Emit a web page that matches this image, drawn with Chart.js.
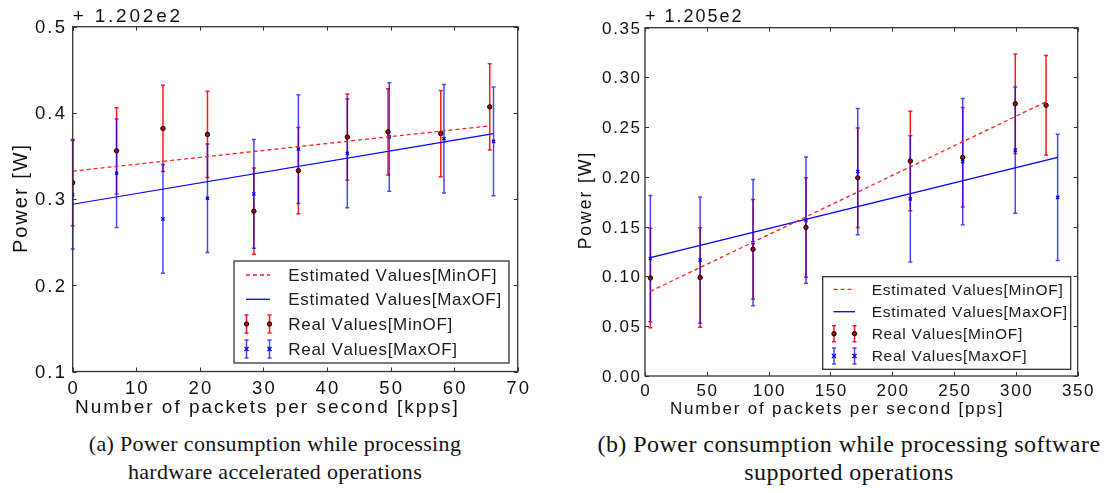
<!DOCTYPE html>
<html><head><meta charset="utf-8">
<script src="https://cdn.jsdelivr.net/npm/chart.js@4.4.1/dist/chart.umd.min.js"></script>
<style>
body{margin:0;background:#fff;width:1108px;height:493px;overflow:hidden;position:relative}
canvas{position:absolute;top:0}
.cap{position:absolute;font-family:'Liberation Serif',serif;color:#111;text-align:center;white-space:nowrap;line-height:28px}
</style></head><body>
<canvas id="ca" style="left:0" width="555" height="420"></canvas>
<canvas id="cb" style="left:555px" width="553" height="420"></canvas>
<div class="cap" style="left:0;width:550px;top:430px;font-size:22px;letter-spacing:0.35px">(a) Power consumption while processing<br>hardware accelerated operations</div>
<div class="cap" style="left:574px;width:550px;top:430px;font-size:24px;letter-spacing:0.45px">(b) Power consumption while processing software<br>supported operations</div>
<script>
// ---------- (a) hardware accelerated ----------
const xRealMinA = [0, 6.9, 14.2, 21.2, 28.5, 35.5, 43.2, 49.6, 57.9, 65.6];
const yRealMinA = [0.319, 0.356, 0.382, 0.375, 0.286, 0.333, 0.372, 0.378, 0.376, 0.407];
const eRealMinA = [0.05, 0.05, 0.05, 0.05, 0.05, 0.05, 0.05, 0.05, 0.05, 0.05];
const xRealMaxA = [0, 6.9, 14.2, 21.2, 28.5, 35.5, 43.2, 49.8, 58.4, 66.2];
const yRealMaxA = [0.305, 0.330, 0.277, 0.301, 0.306, 0.358, 0.353, 0.372, 0.370, 0.367];
const eRealMaxA = [0.063, 0.063, 0.063, 0.063, 0.063, 0.063, 0.063, 0.063, 0.063, 0.063];
const xEstMinA = [0, 65.6];
const yEstMinA = [0.3324, 0.385];
const xEstMaxA = [0, 66.2];
const yEstMaxA = [0.294, 0.376];
const xTicksA = [0, 10, 20, 30, 40, 50, 60, 70];
const yTicksA = [0.1, 0.2, 0.3, 0.4, 0.5];

// ---------- (b) software supported ----------
const xRealMinB = [4.35, 44.6, 87.4, 130.2, 172.1, 214.6, 257, 299.5, 324.4];
const yRealMinB = [0.0985, 0.099, 0.1274, 0.1493, 0.1992, 0.216, 0.2197, 0.2736, 0.272];
const eRealMinB = [0.05, 0.05, 0.05, 0.05, 0.05, 0.05, 0.05, 0.05, 0.05];
const xRealMaxB = [4.35, 44.6, 87.4, 130.2, 172.1, 214.6, 257, 299.5, 333.8];
const yRealMaxB = [0.118, 0.1164, 0.134, 0.1566, 0.2054, 0.178, 0.2154, 0.227, 0.1795];
const eRealMaxB = [0.0635, 0.0635, 0.0635, 0.0635, 0.0635, 0.0635, 0.0635, 0.0635, 0.0635];
const xEstMinB = [4.35, 324.4];
const yEstMinB = [0.0851, 0.2755];
const xEstMaxB = [4.35, 333.8];
const yEstMaxB = [0.119, 0.2197];
const xTicksB = [0, 50, 100, 150, 200, 250, 300, 350];
const yTicksB = [0.00, 0.05, 0.10, 0.15, 0.20, 0.25, 0.30, 0.35];

const seriesLabels = ['Estimated Values[MinOF]', 'Estimated Values[MaxOF]', 'Real Values[MinOF]', 'Real Values[MaxOF]'];

const RED = '#ff2020', BLUE = '#0000ff';
const ERR_RED = 'rgba(255,0,0,0.9)', ERR_BLUE = 'rgba(0,0,255,0.72)';
const SANS = '"Liberation Sans", Arial, sans-serif';

function pts(xs, ys){ return xs.map((x,i)=>({x:x, y:ys[i]})); }

// text with explicit tracking (char by char)
function txt(ctx, s, x, y, size, ls, align){
  ctx.font = size+'px '+SANS;
  ctx.textAlign = 'left'; ctx.textBaseline = 'middle';
  const chars = Array.from(s);
  const ws = chars.map(ch=>ctx.measureText(ch).width);
  const total = ws.reduce((p,q)=>p+q,0) + ls*(chars.length-1);
  let cx = align==='center' ? x-total/2 : (align==='right' ? x-total : x);
  chars.forEach((ch,i)=>{ ctx.fillText(ch, cx, y); cx += ws[i]+ls; });
}

function drawMarker(ctx, kind, x, y){
  ctx.save();
  ctx.setLineDash([]);
  if(kind==='min'){
    ctx.beginPath(); ctx.arc(x,y,2.2,0,Math.PI*2);
    ctx.fillStyle='#b00000'; ctx.fill();
    ctx.lineWidth=1; ctx.strokeStyle='#000'; ctx.stroke();
  } else {
    ctx.strokeStyle=BLUE; ctx.lineWidth=1.4;
    ctx.beginPath(); ctx.moveTo(x-2,y-2); ctx.lineTo(x+2,y+2);
    ctx.moveTo(x-2,y+2); ctx.lineTo(x+2,y-2); ctx.stroke();
  }
  ctx.restore();
}
function drawErr(ctx, color, x, y1, y2){
  ctx.strokeStyle=color; ctx.lineWidth=1.5; ctx.setLineDash([]);
  ctx.beginPath();
  ctx.moveTo(x,y1); ctx.lineTo(x,y2);
  ctx.moveTo(x-2,y1); ctx.lineTo(x+2,y1);
  ctx.moveTo(x-2,y2); ctx.lineTo(x+2,y2);
  ctx.stroke();
}

function makeChart(id, c){
  const plugin = {
    id:'custom'+id,
    beforeDatasetsDraw(chart){
      const ctx=chart.ctx, xs=chart.scales.x, ys=chart.scales.y;
      ctx.save();
      c.xRealMin.forEach((x,i)=>{
        drawErr(ctx, ERR_RED, xs.getPixelForValue(x), ys.getPixelForValue(c.yRealMin[i]+c.eRealMin[i]), ys.getPixelForValue(c.yRealMin[i]-c.eRealMin[i]));
      });
      c.xRealMax.forEach((x,i)=>{
        drawErr(ctx, ERR_BLUE, xs.getPixelForValue(x), ys.getPixelForValue(c.yRealMax[i]+c.eRealMax[i]), ys.getPixelForValue(c.yRealMax[i]-c.eRealMax[i]));
      });
      ctx.restore();
    },
    afterDraw(chart){
      const ctx=chart.ctx, a=chart.chartArea, xs=chart.scales.x, ys=chart.scales.y;
      ctx.save();
      ctx.setLineDash([]);
      // inward ticks
      ctx.strokeStyle='#333'; ctx.lineWidth=1;
      ctx.beginPath();
      c.xTicks.forEach(v=>{ const p=Math.round(xs.getPixelForValue(v))+0.5;
        ctx.moveTo(p,a.bottom); ctx.lineTo(p,a.bottom-4); ctx.moveTo(p,a.top); ctx.lineTo(p,a.top+4); });
      c.yTicks.forEach(v=>{ const p=Math.round(ys.getPixelForValue(v))+0.5;
        ctx.moveTo(a.left,p); ctx.lineTo(a.left+4,p); ctx.moveTo(a.right,p); ctx.lineTo(a.right-4,p); });
      ctx.stroke();
      // frame
      ctx.strokeStyle='#333'; ctx.lineWidth=1.3;
      ctx.strokeRect(a.left, a.top, a.right-a.left, a.bottom-a.top);
      // tick labels (from the scales)
      ctx.fillStyle='#111';
      c.xTicks.forEach(v=>txt(ctx, String(v), xs.getPixelForValue(v), c.xTickY, c.tickFont, c.tickLs, 'center'));
      c.yTicks.forEach(v=>txt(ctx, v.toFixed(c.yDec), c.yTickX, ys.getPixelForValue(v)+1.3, c.tickFont, c.tickLs, 'right'));
      // offset text and axis titles
      txt(ctx, c.offsetText, a.left, 17, c.offsetFont, c.offsetLs, 'left');
      txt(ctx, c.xTitle, c.xTitleX, c.xTitleY, c.xTitleFont, c.xTitleLs, 'left');
      ctx.save();
      ctx.translate(c.yTitleX, c.yTitleY); ctx.rotate(-Math.PI/2);
      txt(ctx, 'Power [W]', 0, 0, c.yTitleFont, c.yTitleLs, 'center');
      ctx.restore();
      // legend
      const L=c.legend;
      ctx.fillStyle='#fff'; ctx.fillRect(L.x1,L.y1,L.x2-L.x1,L.y2-L.y1);
      ctx.strokeStyle='#222'; ctx.lineWidth=1.2; ctx.strokeRect(L.x1,L.y1,L.x2-L.x1,L.y2-L.y1);
      ctx.lineWidth=1.3; ctx.strokeStyle=RED; ctx.setLineDash([4,3]);
      ctx.beginPath(); ctx.moveTo(L.s1,L.rows[0]); ctx.lineTo(L.s2,L.rows[0]); ctx.stroke();
      ctx.setLineDash([]); ctx.strokeStyle=BLUE;
      ctx.beginPath(); ctx.moveTo(L.s1,L.rows[1]); ctx.lineTo(L.s2,L.rows[1]); ctx.stroke();
      [L.s1+0.5, L.s2-0.5].forEach(sx=>{
        drawErr(ctx, ERR_RED, sx, L.rows[2]-L.h, L.rows[2]+L.h); drawMarker(ctx,'min',sx,L.rows[2]);
        drawErr(ctx, ERR_BLUE, sx, L.rows[3]-L.h, L.rows[3]+L.h); drawMarker(ctx,'max',sx,L.rows[3]);
      });
      ctx.fillStyle='#1a1a1a';
      seriesLabels.forEach((t,i)=>txt(ctx, t, L.tx, L.rows[i]+1, L.font, L.ls, 'left'));
      ctx.restore();
    }
  };
  const W=c.W, H=c.H, A=c.area;
  return new Chart(document.getElementById(id), {
    type:'scatter',
    data:{ datasets:[
      {label:seriesLabels[0], data:pts(c.xEstMin,c.yEstMin), showLine:true, borderColor:RED, borderWidth:1.3, borderDash:[4,3], pointRadius:0},
      {label:seriesLabels[1], data:pts(c.xEstMax,c.yEstMax), showLine:true, borderColor:BLUE, borderWidth:1.2, pointRadius:0},
      {label:seriesLabels[2], data:pts(c.xRealMin,c.yRealMin), showLine:false, pointStyle:'circle', pointRadius:2.2, backgroundColor:'#b00000', borderColor:'#000', borderWidth:1},
      {label:seriesLabels[3], data:pts(c.xRealMax,c.yRealMax), showLine:false, pointStyle:'crossRot', pointRadius:2.2, borderColor:BLUE, borderWidth:1.4}
    ]},
    options:{
      responsive:false, animation:false, devicePixelRatio:1,
      layout:{padding:{left:0, top:A.top, right:W-A.right, bottom:0}},
      plugins:{legend:{display:false}, tooltip:{enabled:false}},
      scales:{
        x:{type:'linear', min:c.xTicks[0], max:c.xTicks[c.xTicks.length-1], offset:false,
          afterBuildTicks:s=>{ s.ticks=c.xTicks.map(v=>({value:v})); },
          afterFit:s=>{ s.height=H-A.bottom; },
          grid:{display:false, drawTicks:false}, border:{display:false},
          ticks:{display:false}, title:{display:false}
        },
        y:{type:'linear', min:c.yTicks[0], max:c.yTicks[c.yTicks.length-1],
          afterBuildTicks:s=>{ s.ticks=c.yTicks.map(v=>({value:v})); },
          afterFit:s=>{ s.width=A.left; },
          grid:{display:false, drawTicks:false}, border:{display:false},
          ticks:{display:false}, title:{display:false}
        }
      }
    },
    plugins:[plugin]
  });
}

makeChart('ca', {
  W:555, H:420, area:{left:72.7, top:26.7, right:517.7, bottom:371.5},
  xRealMin:xRealMinA, yRealMin:yRealMinA, eRealMin:eRealMinA,
  xRealMax:xRealMaxA, yRealMax:yRealMaxA, eRealMax:eRealMaxA,
  xEstMin:xEstMinA, yEstMin:yEstMinA, xEstMax:xEstMaxA, yEstMax:yEstMaxA,
  xTicks:xTicksA, yTicks:yTicksA, yDec:1,
  tickFont:18.5, tickLs:2.2, xTickY:389, yTickX:65,
  xTitle:'Number of packets per second [kpps]', xTitleFont:19, xTitleLs:2, xTitleX:75, xTitleY:408,
  yTitleFont:20, yTitleLs:2, yTitleX:21, yTitleY:199,
  offsetText:'+ 1.202e2', offsetFont:19, offsetLs:2.8,
  legend:{x1:234, y1:261, x2:509, y2:363, rows:[275, 299.3, 324, 349], s1:246, s2:270, tx:288.3, h:9, font:17, ls:0.7}
});
makeChart('cb', {
  W:553, H:420, area:{left:90, top:27.7, right:522.7, bottom:376},
  xRealMin:xRealMinB, yRealMin:yRealMinB, eRealMin:eRealMinB,
  xRealMax:xRealMaxB, yRealMax:yRealMaxB, eRealMax:eRealMaxB,
  xEstMin:xEstMinB, yEstMin:yEstMinB, xEstMax:xEstMaxB, yEstMax:yEstMaxB,
  xTicks:xTicksB, yTicks:yTicksB, yDec:2,
  tickFont:17, tickLs:1.6, xTickY:391, yTickX:85,
  xTitle:'Number of packets per second [pps]', xTitleFont:17, xTitleLs:1.8, xTitleX:115, xTitleY:409,
  yTitleFont:17.5, yTitleLs:2, yTitleX:31, yTitleY:201,
  offsetText:'+ 1.205e2', offsetFont:18, offsetLs:2,
  legend:{x1:267.7, y1:276.7, x2:515.7, y2:369.3, rows:[289.3, 311.7, 333.7, 356], s1:278.5, s2:300, tx:316.7, h:8, font:15.5, ls:0.7}
});
</script>
</body></html>
